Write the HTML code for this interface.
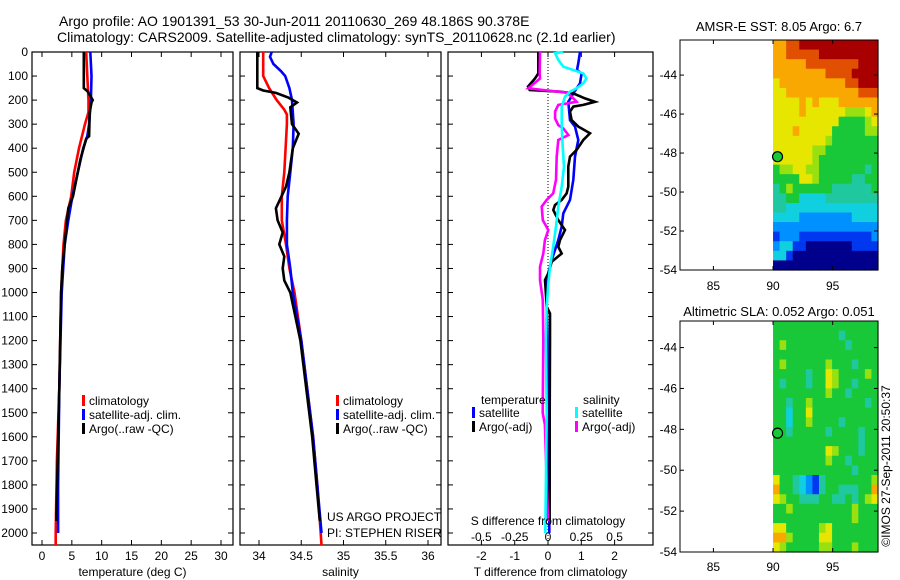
<!DOCTYPE html>
<html><head><meta charset="utf-8">
<style>
html,body{margin:0;padding:0;background:#fff;}
svg{display:block;font-family:"Liberation Sans",sans-serif;}
text{font-size:12px;fill:#000;}
</style></head>
<body>
<svg id="fig" width="900" height="580" viewBox="0 0 900 580" xmlns="http://www.w3.org/2000/svg">
<rect x="0" y="0" width="900" height="580" fill="#fff"/>
<text x="59" y="26" style="font-size:14px">Argo profile: AO 1901391_53 30-Jun-2011 20110630_269 48.186S 90.378E</text>
<text x="57" y="42" style="font-size:14px">Climatology: CARS2009. Satellite-adjusted climatology: synTS_20110628.nc (2.1d earlier)</text>
<g id="p1"></g>
<g id="p2"></g>
<g id="p3"></g>
<g id="m1"></g>
<g id="m2"></g>
<text transform="translate(890,466) rotate(-90)" text-anchor="middle">©IMOS 27-Sep-2011 20:50:37</text>
</svg>
<script>
// ---------- data ----------
const depthTicks = [0,100,200,300,400,500,600,700,800,900,1000,1100,1200,1300,1400,1500,1600,1700,1800,1900,2000];
const tempTicks = [0,5,10,15,20,25,30];
const salTicks = [34,34.5,35,35.5,36];
const tdiffTicks = [-2,-1,0,1,2];
const sdiffTicks = [-0.5,-0.25,0,0.25,0.5];

const tClimDepth = [0,100,200,250,300,400,500,600,700,800,900,1000,1400,1700,2000,2050];
const tClimVal   = [7.4,7.6,7.8,7.8,7.2,6.2,5.4,4.9,4.0,3.6,3.4,3.2,2.9,2.5,2.3,2.3];
const tSatDepth = [0,100,200,300,350,400,500,600,700,800,1000,1400,1800,2000];
const tSatVal   = [8.1,8.3,8.2,7.9,7.6,6.9,6.0,5.1,4.4,3.8,3.3,2.9,2.7,2.7];
const tArgoDepth = [0,150,165,200,210,250,350,360,450,600,650,800,900,1000,1400,1950];
const tArgoVal   = [7.0,7.0,7.7,8.5,8.3,8.0,7.9,7.4,6.4,5.2,4.4,3.8,3.4,3.2,2.9,2.4];

const sClimDepth = [0,100,150,200,240,260,300,500,600,700,800,900,1000,1200,1400,1600,1800,2000,2050];
const sClimVal   = [34.05,34.05,34.12,34.21,34.30,34.33,34.33,34.30,34.27,34.27,34.32,34.36,34.42,34.50,34.57,34.64,34.69,34.73,34.74];
const sSatDepth = [0,20,50,80,100,150,200,300,400,500,600,700,800,900,1000,1200,1400,1600,1800,2000];
const sSatVal   = [34.15,34.13,34.17,34.26,34.31,34.36,34.39,34.41,34.40,34.37,34.34,34.33,34.33,34.37,34.40,34.50,34.57,34.64,34.69,34.74];
const sArgoDepth = [0,150,160,170,190,210,230,300,340,400,500,560,650,700,750,800,850,900,950,1000,1200,1400,1600,1800,1950];
const sArgoVal   = [33.98,33.98,34.05,34.2,34.35,34.45,34.37,34.39,34.47,34.40,34.36,34.32,34.20,34.22,34.28,34.24,34.30,34.28,34.30,34.37,34.49,34.56,34.63,34.68,34.72];

const dTSatDepth = [0,47,75,89,130,172,207,283,310,366,435,532,615,671,726,782,823,865,920,976,1059,1198,1500,1900,2000];
const dTSatVal   = [0.96,0.91,0.87,1.01,0.96,0.76,0.61,0.66,0.81,0.91,0.81,0.76,0.66,0.46,0.41,0.31,0.21,0.11,0.01,-0.06,-0.04,-0.02,0,0.04,0.04];
const dTArgoDepth = [0,89,110,144,158,165,172,193,207,220,227,248,283,310,338,366,407,435,476,560,588,615,636,657,699,740,782,810,838,872,920,948,1059,1087,1198,1500,1950];
const dTArgoVal   = [-0.29,-0.29,-0.39,-0.6,-0.55,0.36,0.76,1.11,1.41,1.06,0.76,0.66,0.71,0.91,1.26,1.06,0.86,0.66,0.61,0.61,0.56,0.41,0.21,0.16,0.31,0.51,0.36,0.31,0.41,0.11,0.01,-0.09,-0.04,0.06,0.06,0.05,0.05];
const dSSatDepth = [0,5,33,61,75,89,110,130,151,165,186,227,310,393,476,560,643,726,810,893,962,1059,1198,1500,2000];
const dSSatVal   = [0.115,0.053,0.077,0.115,0.19,0.265,0.288,0.265,0.215,0.165,0.128,0.103,0.103,0.11,0.12,0.103,0.077,0.06,0.039,0.015,0.002,-0.01,-0.016,-0.01,-0.02];
const dSArgoDepth = [0,89,110,151,158,165,169,186,207,213,220,248,276,304,318,345,366,435,532,588,615,643,699,740,782,838,893,948,1031,1198,1500,1550,1950];
const dSArgoVal   = [-0.06,-0.062,-0.06,-0.148,-0.035,0.077,0.14,0.178,0.215,0.153,0.077,0.053,0.053,0.077,0.115,0.153,0.077,0.065,0.06,0.039,-0.01,-0.047,-0.039,0.002,-0.023,-0.035,-0.06,-0.06,-0.039,-0.035,-0.04,-0.023,0];

const mapLonTicks = [85,90,95];
const mapLatTicks = [-44,-46,-48,-50,-52,-54];
const sstGrid = [
"8899aaaaaaaaaaaa","8899999aaaaaaaaa","8888899999999aaa","888888889999aaaa",
"7888888888899aaa","7788888888888999","7777878777888888","7777877777766678",
"7777777777555567","7778777775555566","7777777765555555","7777776655555555",
"7777776555555555","5667766555555545","5555776555554455","4565555554444445",
"4455333344444444","4433333333333333","3333222222223333","2222222222222222",
"1222111111111112","2331100000001111","3310000000000000","0000000000000000"];
const slaGrid = [
"5555555555555555","5555555555455555","5655555555545555","5555555555555555",
"5655555565554555","5555545576555565","5455545576554555","5555555565545555",
"5545565555555545","5535575555555555","5535565555455555","5545555545555455",
"5555555555555455","5555555576555455","5555555565545555","5555555555554555",
"7554321455555556","8554321455444558","7655444554454567","5565555555556555",
"5555555555556555","7755555675555555","8865555775555555","7655555665556555"];
const argoLon = 90.378, argoLat = -48.186;

// ---------- helpers ----------
const NS = "http://www.w3.org/2000/svg";
function mk(parent, tag, attrs, txt){
  const e = document.createElementNS(NS, tag);
  for (const k in attrs) e.setAttribute(k, attrs[k]);
  if (txt !== undefined) e.textContent = txt;
  parent.appendChild(e);
  return e;
}
const Y0 = 52, YPX = 0.2405, PTOP = 52, PBOT = 545;
const yD = d => Y0 + d * YPX;
function lin(d0, d1, p0, p1){ return v => p0 + (v - d0) * (p1 - p0) / (d1 - d0); }

function panel(g, x0, x1, xs, xticks, xlabels, title, showY){
  const frame = mk(g, 'rect', {x:x0, y:PTOP, width:x1-x0, height:PBOT-PTOP, fill:'none', stroke:'#000', 'stroke-width':1.2});
  
  
  depthTicks.forEach(d => {
    const y = yD(d);
    mk(g, 'line', {x1:x0, x2:x0+5, y1:y, y2:y, stroke:'#000'});
    mk(g, 'line', {x1:x1, x2:x1-5, y1:y, y2:y, stroke:'#000'});
    if (showY){
      const t = mk(g, 'text', {x:x0-4, y:y+4, 'text-anchor':'end'}, String(d));
      
      
    }
  });
  xticks.forEach((v, i) => {
    const x = xs(v);
    mk(g, 'line', {x1:x, x2:x, y1:PTOP, y2:PTOP+5, stroke:'#000'});
    mk(g, 'line', {x1:x, x2:x, y1:PBOT, y2:PBOT-5, stroke:'#000'});
    const t = mk(g, 'text', {x:x, y:560, 'text-anchor':'middle'}, xlabels[i]);
    
    
  });
  const tt = mk(g, 'text', {x:(x0+x1)/2, y:576, 'text-anchor':'middle'}, title);
  
  
}
function series(g, depths, vals, xs, color, name){
  const pts = depths.map((d, i) => xs(vals[i]).toFixed(1) + ',' + yD(d).toFixed(1)).join(' ');
  const p = mk(g, 'polyline', {points:pts, fill:'none', stroke:color, 'stroke-width':2.6, 'stroke-linejoin':'miter'});
  
  
}
function legendEntry(g, x, y, color, label){
  const e = mk(g, 'g', {});
  
  
  mk(e, 'rect', {x:x, y:y-10, width:3, height:11, fill:color});
  mk(e, 'text', {x:x+7, y:y}, label);
}

// ---------- panel 1 ----------
const p1 = document.getElementById('p1');
const xT = lin(0, 30, 42, 221);
panel(p1, 32, 233, xT, tempTicks, tempTicks.map(String), 'temperature (deg C)', true);
series(p1, tClimDepth, tClimVal, xT, '#ff0000', 'temp-climatology-line');
series(p1, tSatDepth, tSatVal, xT, '#0000ff', 'temp-satellite-line');
series(p1, tArgoDepth, tArgoVal, xT, '#000000', 'temp-argo-line');
legendEntry(p1, 82, 405, '#ff0000', 'climatology');
legendEntry(p1, 82, 419, '#0000ff', 'satellite-adj. clim.');
legendEntry(p1, 82, 433, '#000000', 'Argo(..raw -QC)');

// ---------- panel 2 ----------
const p2 = document.getElementById('p2');
const xS = lin(34, 36, 259, 428);
panel(p2, 240, 441, xS, salTicks, salTicks.map(String), 'salinity', false);
series(p2, sClimDepth, sClimVal, xS, '#ff0000', 'sal-climatology-line');
series(p2, sSatDepth, sSatVal, xS, '#0000ff', 'sal-satellite-line');
series(p2, sArgoDepth, sArgoVal, xS, '#000000', 'sal-argo-line');
legendEntry(p2, 336, 405, '#ff0000', 'climatology');
legendEntry(p2, 336, 419, '#0000ff', 'satellite-adj. clim.');
legendEntry(p2, 336, 433, '#000000', 'Argo(..raw -QC)');
const c1 = mk(p2, 'text', {x:327, y:521}, 'US ARGO PROJECT');


const c2 = mk(p2, 'text', {x:327, y:537}, 'PI: STEPHEN RISER');



// ---------- panel 3 ----------
const p3 = document.getElementById('p3');
const xDT = lin(0, 1, 548, 581.3);
const xDS = lin(0, 0.25, 548, 581.3);
panel(p3, 448, 653, xDT, tdiffTicks, tdiffTicks.map(String), 'T difference from climatology', false);
const zl = mk(p3, 'line', {x1:548, x2:548, y1:PTOP, y2:PBOT, stroke:'#000', 'stroke-dasharray':'1,2'});


series(p3, dTSatDepth, dTSatVal, xDT, '#0000ff', 'tdiff-satellite-line');
series(p3, dTArgoDepth, dTArgoVal, xDT, '#000000', 'tdiff-argo-line');
series(p3, dSArgoDepth, dSArgoVal, xDS, '#ff00ff', 'sdiff-argo-line');
series(p3, dSSatDepth, dSSatVal, xDS, '#00ffff', 'sdiff-satellite-line');
const lh1 = mk(p3, 'text', {x:481, y:404}, 'temperature');


const lh2 = mk(p3, 'text', {x:583, y:404}, 'salinity');


legendEntry(p3, 472, 417, '#0000ff', 'satellite');
legendEntry(p3, 472, 431, '#000000', 'Argo(-adj)');
legendEntry(p3, 575, 417, '#00ffff', 'satellite');
legendEntry(p3, 575, 431, '#ff00ff', 'Argo(-adj)');
const st = mk(p3, 'text', {x:548, y:525, 'text-anchor':'middle'}, 'S difference from climatology');


sdiffTicks.forEach(v => {
  const t = mk(p3, 'text', {x:xDS(v), y:541, 'text-anchor':'middle'}, String(v));
  
  
});

// ---------- maps ----------
const jet = {'0':'#00008c','1':'#0038f0','2':'#0090ff','3':'#10d0e0','4':'#20c8a0','5':'#18c838','6':'#98e010','7':'#e6e600','8':'#f8a800','9':'#e05000','a':'#a80000'};
function drawMap(g, top, bot, latTop, grid, title, titleY, labelY){
  const x0 = 680, x1 = 878;
  const xs = lin(82.2, 98.8, x0, x1);
  const ys = lin(latTop, -54, top, bot);
  const rows = grid.length, cols = grid[0].length;
  const dLon = (98.8 - 90) / cols, dLat = (latTop + 54) / rows;
  grid.forEach((row, r) => {
    for (let c = 0; c < cols; c++){
      const la = xs(90 + c*dLon), lb = xs(90 + (c+1)*dLon);
      const ta = ys(latTop - r*dLat), tb = ys(latTop - (r+1)*dLat);
      const cell = mk(g, 'rect', {x:la, y:ta, width:lb-la+0.6, height:tb-ta+0.6, fill:jet[row[c]]});
      
      
    }
  });
  const fr = mk(g, 'rect', {x:x0, y:top, width:x1-x0, height:bot-top, fill:'none', stroke:'#000'});
  
  
  mapLonTicks.forEach(v => {
    mk(g, 'line', {x1:xs(v), x2:xs(v), y1:bot, y2:bot-4, stroke:'#000'});
    mk(g, 'line', {x1:xs(v), x2:xs(v), y1:top, y2:top+4, stroke:'#000'});
    const t = mk(g, 'text', {x:xs(v), y:labelY, 'text-anchor':'middle'}, String(v));
    
    
  });
  mapLatTicks.forEach(v => {
    mk(g, 'line', {x1:x0, x2:x0+4, y1:ys(v), y2:ys(v), stroke:'#000'});
    mk(g, 'line', {x1:x1, x2:x1-4, y1:ys(v), y2:ys(v), stroke:'#000'});
    const t = mk(g, 'text', {x:x0-3, y:ys(v)+4, 'text-anchor':'end'}, String(v));
    
    
  });
  const dot = mk(g, 'circle', {cx:xs(argoLon), cy:ys(argoLat), r:5, fill:'#18c838', stroke:'#000', 'stroke-width':1.2});
  
  
  const tt = mk(g, 'text', {x:779, y:titleY, 'text-anchor':'middle', style:'font-size:13px'}, title);
  
  
}
drawMap(document.getElementById('m1'), 40, 270, -42.2, sstGrid, 'AMSR-E SST: 8.05 Argo: 6.7', 31, 290);
drawMap(document.getElementById('m2'), 321, 552, -42.7, slaGrid, 'Altimetric SLA: 0.052 Argo: 0.051', 316, 571);
</script>
</body></html>
